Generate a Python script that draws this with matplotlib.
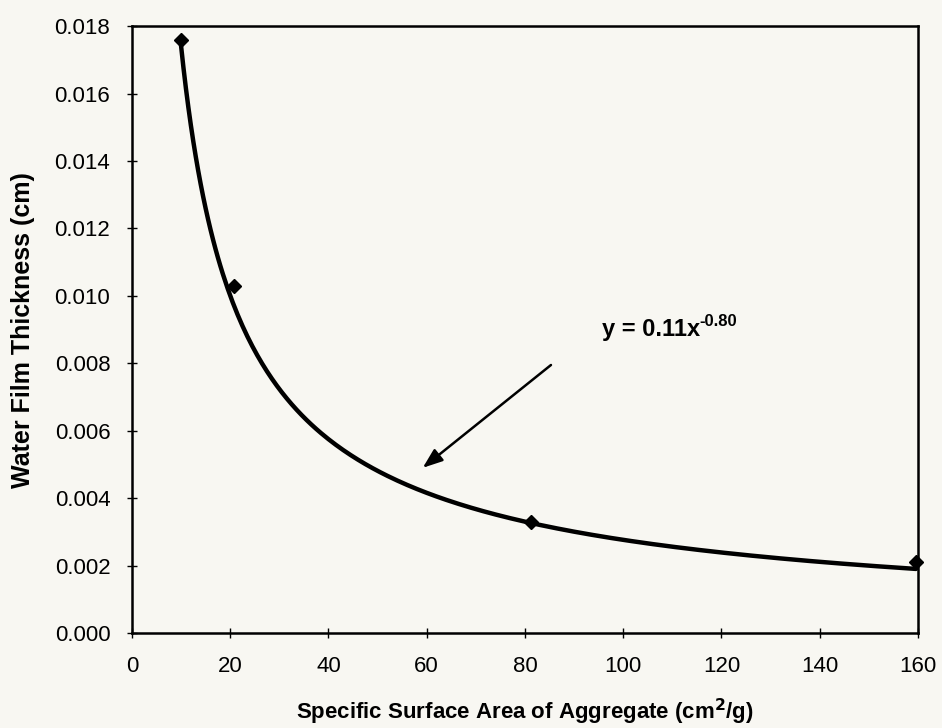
"""Water film thickness vs. specific surface area of aggregate, with power-law fit."""

import numpy as np
import matplotlib

matplotlib.use("Agg")
import matplotlib.pyplot as plt

# measured points
surface_area = [10.0, 20.8, 81.2, 159.6]          # cm^2/g
film_thickness = [0.0176, 0.0103, 0.0033, 0.0021]  # cm

# power-law trendline coefficients shown on the chart: y = a * x^b
fit_a = 0.11
fit_b = -0.80

x_ticks = [0, 20, 40, 60, 80, 100, 120, 140, 160]
y_ticks = [0.000, 0.002, 0.004, 0.006, 0.008, 0.010, 0.012, 0.014, 0.016, 0.018]

plt.rcParams["font.family"] = ["Liberation Sans", "DejaVu Sans"]
bg = "#f8f7f2"

fig = plt.figure(figsize=(9.42, 7.28), dpi=100, facecolor=bg)
ax = fig.add_axes([0.140, 0.1305, 0.8345, 0.8335], facecolor=bg)

xs = np.linspace(surface_area[0], surface_area[-1], 300)
ax.plot(xs, fit_a * xs ** fit_b, color="black", lw=3.2, solid_capstyle="round", zorder=2)
ax.plot(surface_area, film_thickness, linestyle="none", marker="D", ms=7,
        color="black", zorder=3, clip_on=False)

ax.set_xlim(0, 160)
ax.set_ylim(0, 0.018)
ax.set_xticks(x_ticks)
ax.set_xticklabels([str(v) for v in x_ticks], fontsize=16)
ax.set_yticks(y_ticks)
ax.set_yticklabels([f"{v:.3f}" for v in y_ticks], fontsize=16)
ax.tick_params(direction="inout", length=7, width=1)
ax.tick_params(axis="y", pad=12)
ax.tick_params(axis="x", pad=13)
for s in ax.spines.values():
    s.set_linewidth(1.8)

ax.set_xlabel("Specific Surface Area of Aggregate (cm$^{\\mathbf{2}}$/g)",
              fontsize=16, fontweight="bold", labelpad=14)
ax.set_ylabel("Water Film Thickness (cm)", fontsize=18, fontweight="bold", labelpad=14)

ax.annotate("", xy=(59.2, 0.0049), xytext=(85.3, 0.00795),
            arrowprops=dict(arrowstyle="-|>,head_length=1.2,head_width=0.45",
                            color="black", lw=1.8, shrinkA=0, shrinkB=0))
eq = ax.text(95.6, 0.0090, "y = 0.11x", fontsize=17, fontweight="bold",
             ha="left", va="center")
fig.canvas.draw()
bb = eq.get_window_extent()
ax.annotate("-0.80", xy=(bb.x1, bb.y1), xycoords="figure pixels",
            xytext=(0, -8), textcoords="offset points",
            fontsize=12, fontweight="bold", ha="left", va="bottom")

fig.savefig("out.png", dpi=100, facecolor=bg)
